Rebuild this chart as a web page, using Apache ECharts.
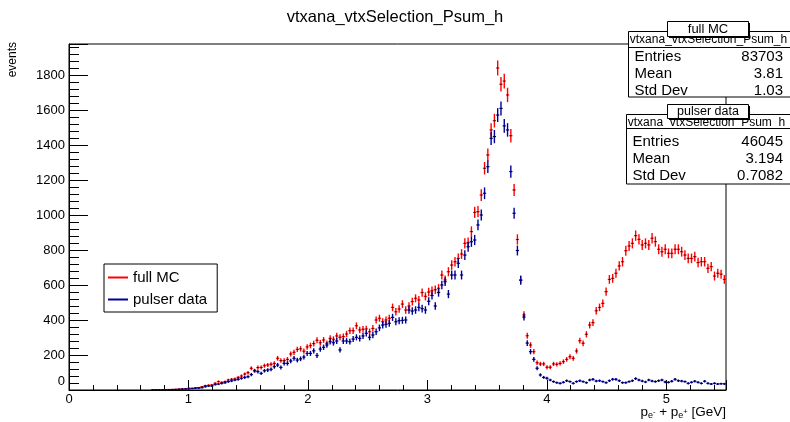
<!DOCTYPE html>
<html>
<head>
<meta charset="utf-8">
<script src="https://cdn.jsdelivr.net/npm/echarts@6/dist/echarts.min.js"></script>
<style>
html,body{margin:0;padding:0;background:#fff;}
#chart{width:790px;height:422px;}
</style>
</head>
<body>
<div id="chart"></div>
<script>
// Histogram binning (x axis of the histogram)
const xMin = 0, xMax = 5.5, nBins = 200;
const binWidth = (xMax - xMin) / nBins;

// Bin contents
const fullMC = [
 0,0,0,0,0,0,0,0,0,0,0,0,0,0,0,0,0,0,0,0,0,0,0,0,0,
 1,1,1,2,2,3,3,4,5,6,7,
 10,10,13,14,19,25,27,29,38,48,
 43,48,57,61,63,72,80,91,99,124,
 110,128,129,139,143,147,152,181,168,168,
 175,206,215,232,235,222,246,254,265,284,
 270,286,267,295,290,309,301,305,320,339,
 339,367,343,347,349,333,352,400,410,390,
 400,410,472,447,463,491,457,480,505,524,
 514,557,535,560,567,573,581,657,629,676,
 714,733,752,777,838,842,905,1015,1019,1114,
 1267,1343,1486,1539,1840,1747,1765,1686,1453,1143,
 860,629,429,310,257,219,156,149,149,130,
 130,149,147,152,162,175,190,181,223,282,
 267,318,371,385,453,472,495,562,632,638,
 667,709,733,796,823,838,882,861,829,838,
 829,867,848,804,790,804,781,781,804,804,
 790,771,752,752,762,728,733,733,695,705,
 651,667,662,632
];
const pulserData = [
 0,0,0,0,0,0,0,0,0,0,0,0,0,0,0,0,0,0,0,0,0,0,0,0,0,
 1,1,1,1,2,2,3,3,4,5,6,
 7,8,10,11,13,19,23,23,31,34,
 38,42,48,52,57,61,67,72,76,88,
 110,105,95,110,114,118,133,143,129,152,
 152,166,181,171,178,188,209,209,224,197,
 234,244,257,276,270,280,229,280,280,276,
 291,301,295,309,324,301,314,333,355,371,
 375,381,415,390,396,398,400,457,451,457,
 472,465,457,507,540,480,557,600,619,548,
 657,657,724,657,771,819,847,857,943,1000,
 1124,1276,1438,1448,1571,1609,1509,1486,1248,1010,
 797,627,417,268,219,175,124,86,72,67,
 57,48,42,38,44,53,48,38,48,53,
 48,42,57,61,51,53,48,42,53,61,
 61,53,42,42,48,53,65,57,51,46,
 57,51,48,53,57,46,44,50,61,53,
 51,48,38,44,50,44,38,50,38,34,
 38,34,36,35
];

const seriesNames = ['full MC', 'pulser data'];
const seriesColors = ['#ff0000', '#000099'];
const statLabels = ['Entries', 'Mean', 'Std Dev'];
const statsMC = ['83703', '3.81', '1.03'];
const statsData = ['46045', '3.194', '0.7082'];
const histName = 'vtxana_vtxSelection_Psum_h';

const yMax = 1977;
const FONT = '"Liberation Sans", Arial, Helvetica, sans-serif';

function toPoints(values) {
  return values.map((v, i) => [xMin + (i + 0.5) * binWidth, v]);
}

function errSeries(name, values, color) {
  return {
    type: 'custom',
    name: name,
    xAxisIndex: 0,
    yAxisIndex: 0,
    clip: true,
    data: toPoints(values),
    encode: { x: 0, y: 1 },
    itemStyle: { color: color },
    renderItem: function (params, api) {
      const x = api.value(0), v = api.value(1);
      if (!v) return null;
      const e = Math.sqrt(v);
      const c = api.coord([x, v]);
      const t = api.coord([x, v + e]);
      const b = api.coord([x, Math.max(0, v - e)]);
      const l = api.coord([x - binWidth / 2, v]);
      const r = api.coord([x + binWidth / 2, v]);
      return {
        type: 'group',
        children: [
          { type: 'line', shape: { x1: c[0], y1: t[1], x2: c[0], y2: b[1] }, style: { stroke: color, lineWidth: 1.4 } },
          { type: 'line', shape: { x1: l[0], y1: c[1], x2: r[0], y2: c[1] }, style: { stroke: color, lineWidth: 1.2 } },
          { type: 'rect', shape: { x: c[0] - 0.5, y: c[1] - 0.5, width: 1, height: 1 }, style: { fill: '#000' } }
        ]
      };
    }
  };
}

function statsBox(x, y, w, h, sepY, rowsY, values, label, labelY, labelH, labelFont) {
  const els = [];
  els.push({ type: 'rect', z: 100, shape: { x: x, y: y, width: w, height: h }, style: { fill: '#fff', stroke: '#000', lineWidth: 1 } });
  els.push({ type: 'text', z: 101, x: x + 80, y: y + 8.5, style: { text: histName, font: '12px ' + FONT, fill: '#000', align: 'center', verticalAlign: 'middle' } });
  els.push({ type: 'line', z: 101, shape: { x1: x, y1: sepY, x2: x + w, y2: sepY }, style: { stroke: '#000', lineWidth: 1 } });
  statLabels.forEach((s, i) => {
    els.push({ type: 'text', z: 101, x: x + 6, y: rowsY[i], style: { text: s, font: '15px ' + FONT, fill: '#000', align: 'left', verticalAlign: 'middle' } });
    els.push({ type: 'text', z: 101, x: 783, y: rowsY[i], style: { text: values[i], font: '15px ' + FONT, fill: '#000', align: 'right', verticalAlign: 'middle' } });
  });
  // title label with shadow
  els.push({ type: 'rect', z: 102, shape: { x: 669, y: labelY + 2, width: 81, height: labelH }, style: { fill: '#000' } });
  els.push({ type: 'rect', z: 103, shape: { x: 667.5, y: labelY + 0.5, width: 81, height: labelH }, style: { fill: '#fff', stroke: '#000', lineWidth: 1 } });
  els.push({ type: 'text', z: 104, x: 708, y: labelY + labelH / 2 + 0.5, style: { text: label, font: labelFont + ' ' + FONT, fill: '#000', align: 'center', verticalAlign: 'middle' } });
  return els;
}

const graphics = []
  .concat(statsBox(628.5, 31.5, 163, 65.5, 47.5, [56.5, 73.5, 90.5], statsMC, seriesNames[0], 21, 15, '13px'))
  .concat(statsBox(626.5, 114.5, 165, 69.5, 128.5, [141.5, 158.5, 175.5], statsData, seriesNames[1], 104, 14, '12.5px'))
  .concat([
    { type: 'text', z: 100, x: 13, y: 42, rotation: Math.PI / 2,
      style: { text: 'events', font: '12px ' + FONT, fill: '#000', align: 'right', verticalAlign: 'middle' } },
    { type: 'text', z: 100, x: 726, y: 412,
      style: {
        text: 'p{s|e}{t|-} + p{s|e}{t|+} [GeV]',
        font: '13.5px ' + FONT, fill: '#000', align: 'right', verticalAlign: 'middle',
        rich: {
          s: { fontSize: 9, lineHeight: 9, verticalAlign: 'bottom', fontFamily: FONT },
          t: { fontSize: 7.5, lineHeight: 7.5, verticalAlign: 'middle', fontFamily: FONT }
        },
        lineHeight: 16
      } }
  ]);

const chart = echarts.init(document.getElementById('chart'), null, { renderer: 'canvas' });
chart.setOption({
  animation: false,
  backgroundColor: '#fff',
  textStyle: { fontFamily: FONT },
  title: {
    text: histName, left: 'center', top: 7, padding: 0,
    textStyle: { fontSize: 16.5, fontWeight: 'normal', color: '#000', fontFamily: FONT, lineHeight: 20 }
  },
  grid: { left: 69, right: 64, top: 44, bottom: 32, show: true, borderColor: '#000', borderWidth: 1, backgroundColor: 'transparent' },
  legend: {
    orient: 'vertical', left: 104, top: 264,
    backgroundColor: '#fff', borderColor: '#000', borderWidth: 1,
    padding: [6, 10, 5, 4], itemGap: 7, itemWidth: 20, itemHeight: 2,
    icon: 'path://M0 0 H20 V2 H0 Z',
    textStyle: { fontSize: 15, color: '#000', fontFamily: FONT },
    data: seriesNames.map((n, i) => ({ name: n, itemStyle: { color: seriesColors[i], borderWidth: 0 } }))
  },
  xAxis: [
    {
      type: 'value', min: xMin, max: xMax, interval: 1,
      axisLine: { show: true, lineStyle: { color: '#000', width: 1 } },
      axisTick: { show: true, inside: true, length: 10, lineStyle: { color: '#000' } },
      axisLabel: { color: '#000', fontSize: 13, margin: 3, fontFamily: FONT,
        formatter: v => (Math.abs(v - Math.round(v)) < 1e-9 ? String(Math.round(v)) : '') },
      splitLine: { show: false }
    },
    {
      type: 'value', min: xMin, max: xMax, interval: 0.2, position: 'bottom',
      axisLine: { show: false },
      axisTick: { show: true, inside: true, length: 5, lineStyle: { color: '#000' } },
      axisLabel: { show: false },
      splitLine: { show: false }
    }
  ],
  yAxis: [
    {
      type: 'value', min: 0, max: yMax, interval: 200,
      axisLine: { show: true, lineStyle: { color: '#000', width: 1 } },
      axisTick: { show: true, inside: true, length: 19, lineStyle: { color: '#000' } },
      axisLabel: { color: '#000', fontSize: 13, margin: 4, fontFamily: FONT,
        formatter: v => (v === 0 ? '{z|0}' : (v % 200 === 0 ? String(v) : '')),
        rich: { z: { fontSize: 13, color: '#000', fontFamily: FONT, padding: [0, 0, 18, 0] } } },
      splitLine: { show: false }
    },
    {
      type: 'value', min: 0, max: yMax, interval: 40, position: 'left',
      axisLine: { show: false },
      axisTick: { show: true, inside: true, length: 10, lineStyle: { color: '#000' } },
      axisLabel: { show: false },
      splitLine: { show: false }
    }
  ],
  series: [
    errSeries(seriesNames[0], fullMC, seriesColors[0]),
    errSeries(seriesNames[1], pulserData, seriesColors[1])
  ],
  graphic: graphics
});
</script>
</body>
</html>
